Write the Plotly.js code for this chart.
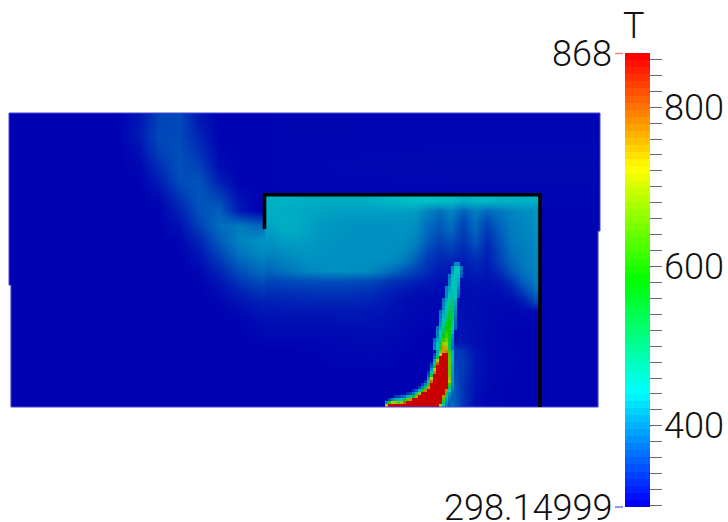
<!DOCTYPE html>
<html><head><meta charset="utf-8">
<script src="https://cdn.plot.ly/plotly-3.0.1.min.js"></script>
<style>html,body{margin:0;padding:0;background:#fff}</style></head>
<body><div id="g" style="width:728px;height:522px"></div>
<script>
const n = null;
const T_MIN = 298.14999, T_MAX = 868;
const barTicks = [300,320,340,360,380,400,420,440,460,480,500,520,540,560,580,600,620,640,660,680,700,720,740,760,780,800,820,840,860];
const barLabels = [400,600,800];

// outer field (cell edges)
const outerX = [9,29,49,69,89,109,129,149,169,189,209,229,249,269,289,600];
const outerY = [113,128,143,158,173,188,203,218,233,248,263,278,293,308,323,338,353,368,383,398,407];
const outerT = [
[299,299,299,299,299,301,314,348,352,316,300,300,300,301,302],
[299,299,299,299,299,300,318,352,352,324,300,300,300,301,302],
[299,299,299,299,299,299,310,346,356,334,303,300,300,301,303],
[299,299,299,299,299,299,303,332,358,345,307,300,300,301,304],
[299,299,299,299,299,299,300,320,354,358,320,300,300,301,303],
[299,299,299,299,299,299,299,306,338,362,345,308,300,300,302],
[299,299,299,299,299,299,299,300,322,358,368,316,299,300,300],
[299,299,299,299,299,299,299,300,310,345,378,388,372,400,300],
[299,299,299,299,299,299,299,299,302,325,365,395,405,410,300],
[299,299,299,299,299,299,299,299,299,312,345,380,395,402,300],
[299,299,299,299,299,299,299,299,299,303,325,355,375,388,300],
[299,299,299,299,299,299,299,299,299,299,310,330,345,352,300],
[299,299,299,299,299,299,299,299,299,299,302,312,322,330,300],
[299,299,299,299,299,299,299,299,299,299,299,303,310,316,300],
[299,299,299,299,299,299,299,299,299,299,299,299,304,308,300],
[299,299,299,299,299,299,299,299,299,299,299,299,300,303,300],
[299,299,299,299,299,299,299,299,299,299,299,299,299,300,300],
[299,299,299,299,299,299,299,299,299,299,299,299,299,299,300],
[299,299,299,299,299,299,299,299,299,299,299,299,299,299,300],
[299,299,299,299,299,299,299,299,299,299,299,299,299,299,300]];

// field inside the enclosure (cell edges)
const boxX = [265,277,289,301,313,325,337,349,361,373,385,397,409,421,433,445,457,469,481,493,505,517,529,541];
const boxY = [196,206,216,226,236,246,256,266,276,286,296,306,316,326,336,346,356,366,376,386,396,407];
const boxT = [
[428,428,426,425,424,424,424,424,425,428,432,436,438,438,436,435,425,432,432,428,428,428,425],
[425,424,422,420,418,416,415,414,414,414,414,414,412,395,380,395,368,390,375,385,395,400,405],
[422,425,424,418,413,410,408,406,406,406,406,408,404,382,368,382,350,380,350,375,390,398,402],
[413,422,422,416,410,408,406,404,404,404,404,405,400,375,358,372,342,372,338,365,388,395,400],
[406,412,414,412,408,406,404,404,404,404,404,402,394,365,345,355,335,360,330,358,385,392,398],
[398,402,406,408,406,404,404,404,404,404,402,398,382,350,335,340,325,345,322,350,380,390,396],
[385,392,398,403,404,404,403,403,403,402,398,388,365,338,325,325,318,330,318,345,372,388,395],
[372,380,388,395,400,403,403,402,400,390,375,360,345,330,318,318,314,320,314,330,360,382,392],
[348,350,352,354,355,355,355,352,350,345,335,330,322,316,310,312,310,314,310,315,335,368,388],
[333,335,336,337,338,338,338,336,333,328,320,314,310,307,306,308,308,310,307,308,316,345,375],
[322,323,324,325,326,326,326,325,323,319,314,308,305,304,304,306,307,308,305,305,307,316,350],
[314,315,316,316,316,316,316,316,315,313,310,307,305,303,305,310,310,308,305,303,303,304,306],
[309,309,309,309,309,310,311,311,311,310,308,305,303,301,304,310,310,307,304,302,301,301,302],
[305,305,305,305,305,305,306,307,307,307,306,304,301,300,302,310,312,308,304,301,300,300,300],
[302,302,302,302,302,303,304,305,305,305,304,302,300,299,301,310,312,308,304,301,300,300,300],
[299,299,300,300,301,302,302,303,303,303,302,301,300,299,301,345,335,312,305,302,301,300,300],
[299,299,299,300,300,301,301,301,302,302,301,300,299,299,301,350,340,314,305,302,301,300,300],
[299,299,299,299,299,300,300,300,300,300,300,299,299,299,301,355,340,314,305,302,300,300,300],
[299,299,299,299,299,299,299,299,299,299,299,299,299,299,301,370,335,312,304,301,300,300,300],
[299,299,299,299,299,299,299,299,299,299,299,299,299,299,301,375,335,310,303,301,300,300,300],
[299,299,299,299,299,299,299,299,299,299,299,299,299,299,301,380,335,308,302,301,300,300,300]];

// rising jet (cell edges, empty cells are transparent)
const jetX = [427,430,433,436,439,442,445,448,451,454,457,460,463,466];
const jetY = [262,266,270,274,278,282,286,290,294,298,302,306,310,314,318,322,326,330,334,338,342,346,350];
const jetT = [
[n,n,n,n,n,n,n,n,n,400,400,n,n],
[n,n,n,n,n,n,n,n,400,445,440,385,n],
[n,n,n,n,n,n,n,n,410,450,440,375,n],
[n,n,n,n,n,n,n,385,425,455,435,360,n],
[n,n,n,n,n,n,n,395,435,455,425,n,n],
[n,n,n,n,n,n,n,400,445,455,415,n,n],
[n,n,n,n,n,n,390,420,455,450,400,n,n],
[n,n,n,n,n,n,395,430,465,445,385,n,n],
[n,n,n,n,n,n,400,445,480,440,375,n,n],
[n,n,n,n,n,380,420,470,495,430,n,n,n],
[n,n,n,n,n,390,435,485,505,420,n,n,n],
[n,n,n,n,n,400,445,505,520,410,n,n,n],
[n,n,n,n,380,415,465,525,525,400,n,n,n],
[n,n,n,n,385,425,490,545,520,390,n,n,n],
[n,n,n,n,395,445,520,565,505,380,n,n,n],
[n,n,n,n,405,465,555,585,480,375,n,n,n],
[n,n,n,380,425,495,585,595,450,370,n,n,n],
[n,n,n,390,440,530,610,590,430,n,n,n,n],
[n,n,n,395,460,570,630,570,410,n,n,n,n],
[n,n,375,415,490,620,660,550,395,n,n,n,n],
[n,n,385,435,530,690,700,530,390,n,n,n,n],
[n,n,395,460,600,760,750,520,385,n,n,n,n]];

// flame core (cell edges, empty cells are transparent)
const flameX = [385,388,391,394,397,400,403,406,409,412,415,418,421,424,427,430,433,436,439,442,445,448,451,454];
const flameY = [350,353,356,359,362,365,368,371,374,377,380,383,386,389,392,395,398,401,404,407];
const flameT = [
[n,n,n,n,n,n,n,n,n,n,n,n,n,n,n,n,n,420,650,760,780,620,430],
[n,n,n,n,n,n,n,n,n,n,n,n,n,n,n,n,350,430,720,868,868,640,430],
[n,n,n,n,n,n,n,n,n,n,n,n,n,n,n,n,380,560,868,868,868,650,430],
[n,n,n,n,n,n,n,n,n,n,n,n,n,n,n,n,420,700,868,868,868,650,430],
[n,n,n,n,n,n,n,n,n,n,n,n,n,n,n,340,480,800,868,868,868,650,425],
[n,n,n,n,n,n,n,n,n,n,n,n,n,n,n,370,580,868,868,868,868,650,420],
[n,n,n,n,n,n,n,n,n,n,n,n,n,n,n,410,700,868,868,868,868,650,420],
[n,n,n,n,n,n,n,n,n,n,n,n,n,n,340,450,780,868,868,868,868,650,415],
[n,n,n,n,n,n,n,n,n,n,n,n,n,n,370,560,868,868,868,868,868,660,415],
[n,n,n,n,n,n,n,n,n,n,n,n,n,n,410,720,868,868,868,868,868,680,410],
[n,n,n,n,n,n,n,n,n,n,n,n,n,340,470,790,868,868,868,868,868,700,410],
[n,n,n,n,n,n,n,n,n,n,n,n,345,400,600,868,868,868,868,868,868,620,405],
[n,n,n,n,n,n,n,n,n,n,n,340,400,530,760,868,868,868,868,868,868,520,395],
[n,n,n,n,n,n,n,n,n,335,370,430,600,780,868,868,868,868,868,868,780,450,380],
[n,n,n,n,n,n,n,335,350,390,480,680,868,868,868,868,868,868,868,868,600,410,370],
[n,n,n,340,345,360,380,420,470,560,760,868,868,868,868,868,868,868,868,770,470,390,365],
[n,350,400,420,430,450,520,640,760,868,868,868,868,868,868,868,868,868,868,620,420,380,365],
[400,600,740,680,640,680,800,868,868,868,868,868,868,868,868,868,868,868,868,520,400,n,n],
[740,868,868,868,868,868,868,868,868,868,868,868,868,868,868,868,868,868,700,460,390,n,n]];

// solid walls of the enclosure
const wallX = [264.5,264.5,540,540];
const wallY = [229,194.8,194.8,407];
// outline of the meshed domain
const edgeX = [9,600,600,598,598,11,11,9,9];
const edgeY = [113,113,231,231,407,407,285,285,113];

const barAnchors = [[0,0,255],[0,255,255],[0,255,0],[255,255,0],[255,0,0]];
const fieldScale = [[0,'rgb(0,0,178)'],[0.25,'rgb(0,195,198)'],[0.5,'rgb(0,205,0)'],[0.75,'rgb(205,205,0)'],[1,'rgb(200,0,0)']];
function barColor(t){
  const p=t*4, i=Math.min(3,Math.floor(p)), f=p-i;
  return 'rgb('+barAnchors[i].map((a,k)=>Math.round(a+(barAnchors[i+1][k]-a)*f)).join(',')+')';
}
const BANDS=64, barScale=[];
for(let i=0;i<BANDS;i++){const c=barColor(i/(BANDS-1));barScale.push([i/BANDS,c],[(i+1)/BANDS,c]);}

const W=728,H=522,barTop=53.5,barBot=507,barLeft=625.3;
const px=T=>(H-(barBot-(T-T_MIN)/(T_MAX-T_MIN)*(barBot-barTop)))/H;
const field=(x,y,z,smooth)=>({type:'heatmap',x,y,z,zmin:T_MIN,zmax:T_MAX,colorscale:fieldScale,showscale:false,zsmooth:smooth,hoverongaps:false,connectgaps:false});

const labelFont={family:'Roboto,"Liberation Sans",sans-serif',size:36,color:'#111',weight:300};
const traces=[
  field(outerX,outerY,outerT,'best'),
  field(boxX,boxY,boxT,'best'),
  field(jetX,jetY,jetT,false),
  field(flameX,flameY,flameT,false),
  {type:'scatter',mode:'lines',x:edgeX,y:edgeY,line:{color:'rgb(70,70,215)',width:1},showlegend:false,hoverinfo:'skip'},
  {type:'scatter',mode:'lines',x:wallX,y:wallY,line:{color:'#000',width:3.6},showlegend:false,hoverinfo:'skip'},
  {type:'heatmap',x:[-300,-200],y:[-300,-200],z:[[T_MIN,T_MAX],[T_MAX,T_MIN]],zmin:T_MIN,zmax:T_MAX,colorscale:barScale,showscale:true,
   colorbar:{x:barLeft/W,xanchor:'left',xpad:0,ypad:0,y:(H-barBot)/H,yanchor:'bottom',len:barBot-barTop,lenmode:'pixels',thickness:24.7,thicknessmode:'pixels',
     outlinewidth:0,borderwidth:0,ticks:'outside',ticklen:12,tickwidth:1,tickcolor:'#666',
     tickmode:'array',tickvals:barTicks,ticktext:barTicks.map(()=>''),tickfont:{size:1}}}
];
const shapes=[
  {type:'rect',xref:'x',yref:'y',x0:6,x1:10.5,y0:285.5,y1:410,fillcolor:'#fff',line:{width:0},layer:'above'},
  {type:'rect',xref:'x',yref:'y',x0:598.5,x1:604,y0:231.5,y1:410,fillcolor:'#fff',line:{width:0},layer:'above'},
  {type:'line',xref:'x',yref:'paper',x0:615,x1:623,y0:px(T_MAX),y1:px(T_MAX),line:{color:'#ff8080',width:1.5}},
  {type:'line',xref:'x',yref:'paper',x0:615,x1:623,y0:px(T_MIN),y1:px(T_MIN),line:{color:'#7070ff',width:1.5}},
  ...barLabels.map(v=>({type:'line',xref:'x',yref:'paper',x0:639,x1:651,y0:px(v),y1:px(v),line:{color:'#333',width:1}}))
];
const annotations=[
  {xref:'x',yref:'y',x:613.5,y:54,text:'868',showarrow:false,xanchor:'right',yanchor:'middle',font:labelFont},
  {xref:'x',yref:'y',x:613.5,y:508,text:'298.14999',showarrow:false,xanchor:'right',yanchor:'middle',font:labelFont},
  {xref:'x',yref:'y',x:634,y:26,text:'T',showarrow:false,xanchor:'center',yanchor:'middle',font:labelFont},
  ...barLabels.map(v=>({xref:'x',yref:'paper',x:664,y:px(v),text:String(v),showarrow:false,xanchor:'left',xshift:-2,yanchor:'middle',font:labelFont}))
];
Plotly.newPlot('g',traces,{
  width:W,height:H,margin:{l:0,r:0,t:0,b:0,pad:0},paper_bgcolor:'#fff',plot_bgcolor:'#fff',showlegend:false,
  xaxis:{range:[0,W],visible:false,domain:[0,1],fixedrange:true},
  yaxis:{range:[H,0],visible:false,domain:[0,1],fixedrange:true},
  shapes,annotations
},{displayModeBar:false,staticPlot:true});
</script></body></html>
